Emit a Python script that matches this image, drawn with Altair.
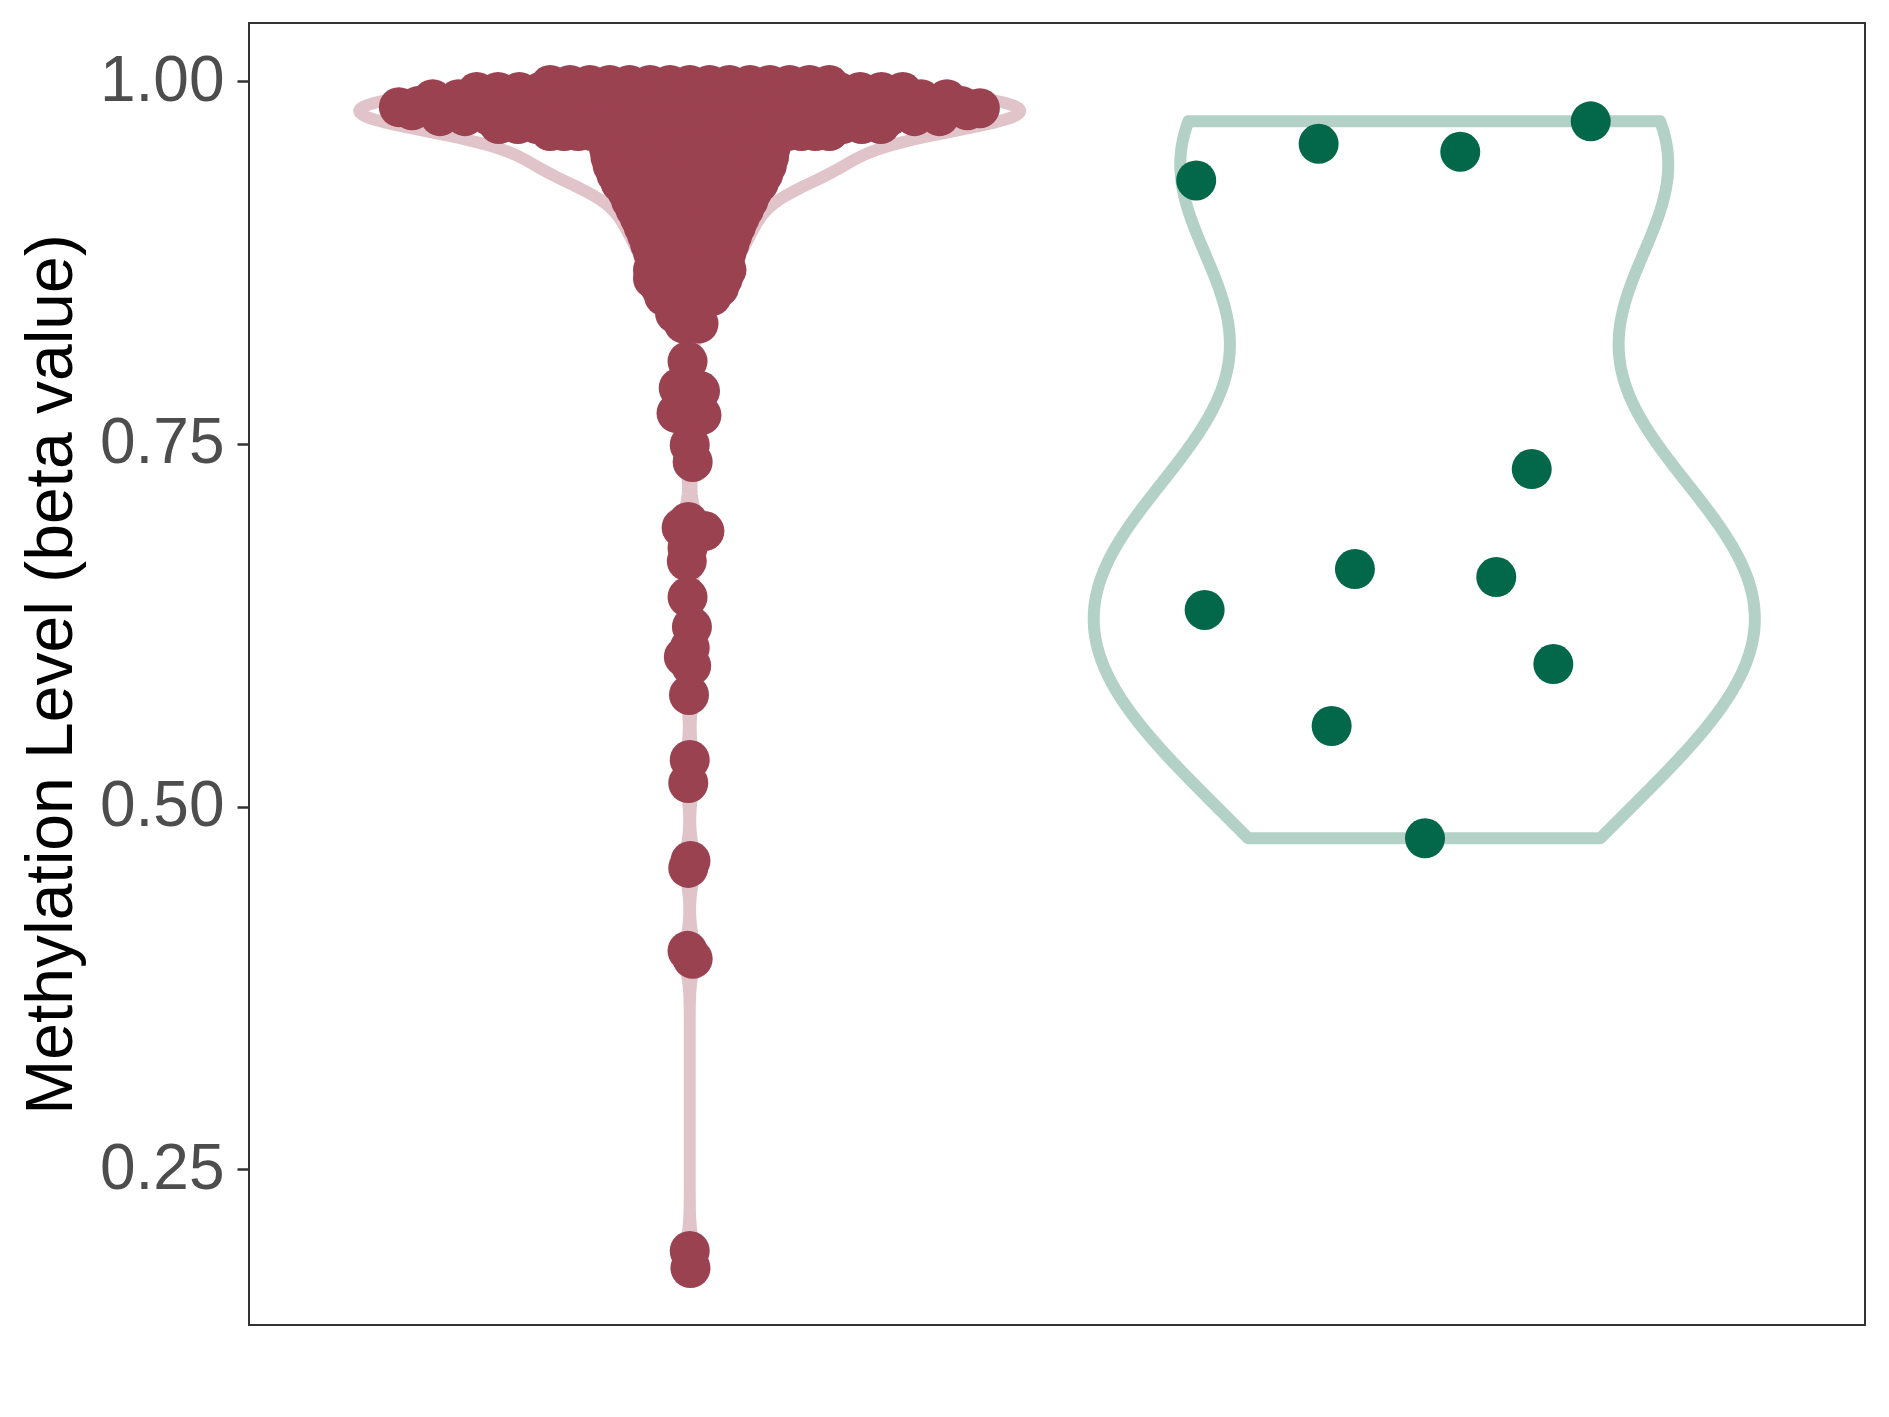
import altair as alt
import numpy as np
import pandas as pd

# ---------------- data ----------------
groups = ["Group A", "Group B"]
centers = [1.0, 2.0]
point_colors = ["#9B4251", "#03684A"]
violin_colors = ["#E0C4CA", "#B3D1C7"]

# Group A (left): dense band near the top (value, sina offset in x units)
a_band_values = (
    [0.9974] * 15 + [0.9926] * 21 + [0.9877] * 21 + [0.9829] * 21
    + [0.9822, 0.9815] + [0.9800] * 22 + [0.9760] * 21 + [0.9705] * 21
    + [0.9657] * 21
)
a_band_offsets = (
    [-0.190, -0.163, -0.136, -0.109, -0.082, -0.054, -0.027, 0.000, 0.027,
     0.054, 0.082, 0.109, 0.136, 0.163, 0.190]
    + [-0.290, -0.261, -0.232, -0.203, -0.174, -0.145, -0.116, -0.087, -0.058,
       -0.029, 0.000, 0.029, 0.058, 0.087, 0.116, 0.145, 0.174, 0.203, 0.232,
       0.261, 0.290]
    + [-0.350, -0.315, -0.280, -0.245, -0.210, -0.175, -0.140, -0.105, -0.070,
       -0.035, 0.000, 0.035, 0.070, 0.105, 0.140, 0.175, 0.210, 0.245, 0.280,
       0.315, 0.350]
    + [-0.370, -0.333, -0.296, -0.259, -0.222, -0.185, -0.148, -0.111, -0.074,
       -0.037, 0.000, 0.037, 0.074, 0.111, 0.148, 0.185, 0.222, 0.259, 0.296,
       0.333, 0.370]
    + [-0.396, 0.395]
    + [-0.378, -0.342, -0.306, -0.270, -0.234, -0.198, -0.162, -0.126, -0.090,
       -0.054, -0.018, 0.018, 0.054, 0.090, 0.126, 0.162, 0.198, 0.234, 0.270,
       0.306, 0.342, 0.378]
    + [-0.340, -0.306, -0.272, -0.238, -0.204, -0.170, -0.136, -0.102, -0.068,
       -0.034, 0.000, 0.034, 0.068, 0.102, 0.136, 0.170, 0.204, 0.238, 0.272,
       0.306, 0.340]
    + [-0.260, -0.234, -0.208, -0.182, -0.156, -0.130, -0.104, -0.078, -0.052,
       -0.026, 0.000, 0.026, 0.052, 0.078, 0.104, 0.130, 0.156, 0.182, 0.208,
       0.234, 0.260]
    + [-0.190, -0.171, -0.152, -0.133, -0.114, -0.095, -0.076, -0.057, -0.038,
       -0.019, 0.000, 0.019, 0.038, 0.057, 0.076, 0.095, 0.114, 0.133, 0.152,
       0.171, 0.190]
)
# Group A funnel below the band
a_funnel_values = (
    [0.9600] * 8 + [0.9540] * 13 + [0.9480] * 13 + [0.9420] * 13 + [0.9360] * 13
    + [0.9300] * 9 + [0.9240] * 6 + [0.9180] * 6 + [0.9120] * 6 + [0.9060] * 5
    + [0.9000] * 5 + [0.8940] * 5 + [0.8880] * 4 + [0.8820] * 4 + [0.8760] * 4
    + [0.8700] * 3 + [0.8640] * 3 + [0.8580] * 2 + [0.8520] * 2 + [0.8460]
    + [0.8400] + [0.8330] * 2
)
a_funnel_offsets = (
    [-0.112, -0.080, -0.048, -0.016, 0.016, 0.048, 0.080, 0.112]
    + [-0.110, -0.092, -0.073, -0.055, -0.037, -0.018, 0.000, 0.018, 0.037,
       0.055, 0.073, 0.092, 0.110]
    + [-0.108, -0.090, -0.072, -0.054, -0.036, -0.018, 0.000, 0.018, 0.036,
       0.054, 0.072, 0.090, 0.108]
    + [-0.105, -0.088, -0.070, -0.053, -0.035, -0.018, 0.000, 0.018, 0.035,
       0.053, 0.070, 0.088, 0.105]
    + [-0.100, -0.083, -0.067, -0.050, -0.033, -0.017, 0.000, 0.017, 0.033,
       0.050, 0.067, 0.083, 0.100]
    + [-0.094, -0.070, -0.047, -0.023, 0.000, 0.023, 0.047, 0.070, 0.094]
    + [-0.085, -0.051, -0.017, 0.017, 0.051, 0.085]
    + [-0.080, -0.048, -0.016, 0.016, 0.048, 0.080]
    + [-0.074, -0.044, -0.015, 0.015, 0.044, 0.074]
    + [-0.068, -0.034, 0.000, 0.034, 0.068]
    + [-0.063, -0.031, 0.000, 0.031, 0.063]
    + [-0.058, -0.029, 0.000, 0.029, 0.058]
    + [-0.054, -0.018, 0.018, 0.054]
    + [-0.050, -0.017, 0.017, 0.050]
    + [-0.047, -0.016, 0.016, 0.047]
    + [-0.050, 0.000, 0.050]
    + [-0.050, -0.005, 0.045]
    + [-0.040, 0.040]
    + [-0.035, 0.030]
    + [0.005]
    + [-0.020]
    + [-0.008, 0.012]
)
# Group A isolated lower values
a_tail_values = [0.8069, 0.7886, 0.7865, 0.7713, 0.7699, 0.7493, 0.7376,
                 0.6963, 0.6923, 0.6900, 0.6783, 0.6693, 0.6445, 0.6239,
                 0.6094, 0.6032, 0.5970, 0.5770, 0.5322, 0.5163, 0.4626,
                 0.4578, 0.4006, 0.3951, 0.1937, 0.1820]
a_tail_offsets = [-0.003, -0.015, 0.014, -0.018, 0.016, 0.0, 0.004,
                  -0.002, -0.011, 0.020, -0.003, -0.004, -0.003, 0.003,
                  0.0, -0.008, 0.002, -0.001, 0.0, -0.002, 0.001,
                  -0.002, -0.003, 0.004, 0.0, 0.001]

# Group B (right)
b_values = [0.9317, 0.9569, 0.9514, 0.9724, 0.7327, 0.6638, 0.6583,
            0.6356, 0.5983, 0.5556, 0.4782]
b_offsets = [-0.3105, -0.1438, 0.0490, 0.2266, 0.1463, -0.0944, 0.0980,
             -0.2990, 0.1757, -0.1261, 0.0010]

y_ticks = [0.25, 0.50, 0.75, 1.00]

# ---------------- build tables ----------------
a_values = a_band_values + a_funnel_values + a_tail_values
a_offsets = a_band_offsets + a_funnel_offsets + a_tail_offsets
assert len(a_values) == len(a_offsets)

df = pd.DataFrame({
    "group": [groups[0]] * len(a_values) + [groups[1]] * len(b_values),
    "center": [centers[0]] * len(a_values) + [centers[1]] * len(b_values),
    "value": a_values + b_values,
    "offset": a_offsets + b_offsets,
})


def bw_nrd0(v):
    v = np.asarray(v, dtype=float)
    sd = v.std(ddof=1)
    q75, q25 = np.percentile(v, [75, 25])
    lo = min(sd, (q75 - q25) / 1.34)
    return 0.9 * lo * len(v) ** (-0.2)


x_scale = alt.Scale(domain=[0.4, 2.6], nice=False, zero=False)
y_scale = alt.Scale(domain=[0.1427, 1.0402], nice=False, zero=False)
font = "Liberation Sans"

y_axis = alt.Axis(
    values=y_ticks, format=".2f", title="Methylation Level (beta value)",
    labelFont=font, labelFontSize=64, labelColor="#4D4D4D", labelPadding=13,
    titleFont=font, titleFontSize=66, titleColor="#000000", titleFontWeight="normal",
    titleAngle=270, titleX=-178, titleY=651, titleBaseline="alphabetic", titleAlign="center",
    tickSize=12, tickWidth=2.5, tickColor="#333333", domain=False, grid=False,
)

layers = []
for g, c, col, vals in zip(groups, centers, violin_colors, [a_values, b_values]):
    bw = bw_nrd0(vals)
    lay = (
        alt.Chart(df)
        .transform_filter(alt.datum.group == g)
        .transform_density("value", as_=["value", "density"], bandwidth=bw,
                           extent=[float(min(vals)), float(max(vals))], steps=512)
        .transform_joinaggregate(maxd="max(density)")
        .transform_calculate(xl=f"{c} - 0.45*datum.density/datum.maxd",
                             xr=f"{c} + 0.45*datum.density/datum.maxd")
        .mark_area(orient="horizontal", stroke=col, strokeWidth=12, fill="white",
                   fillOpacity=0, strokeJoin="round")
        .encode(
            y=alt.Y("value:Q", scale=y_scale, axis=y_axis),
            x=alt.X("xl:Q", scale=x_scale, axis=None),
            x2="xr:Q",
        )
    )
    layers.append(lay)

points = (
    alt.Chart(df)
    .transform_calculate(xpos="datum.center + datum.offset")
    .mark_circle(size=1600, opacity=1)
    .encode(
        x=alt.X("xpos:Q", scale=x_scale, axis=None),
        y=alt.Y("value:Q", scale=y_scale, axis=y_axis),
        color=alt.Color("group:N", scale=alt.Scale(domain=groups, range=point_colors), legend=None),
    )
)
layers.append(points)

chart = (
    alt.layer(*layers)
    .properties(width=1616, height=1302,
                autosize=alt.AutoSizeParams(type="none"),
                padding={"left": 241, "top": 15, "right": 10, "bottom": 10})
    .configure_view(stroke="#333333", strokeWidth=2)
)

chart.save("out.html", embed_options={"renderer": "svg", "actions": False})
